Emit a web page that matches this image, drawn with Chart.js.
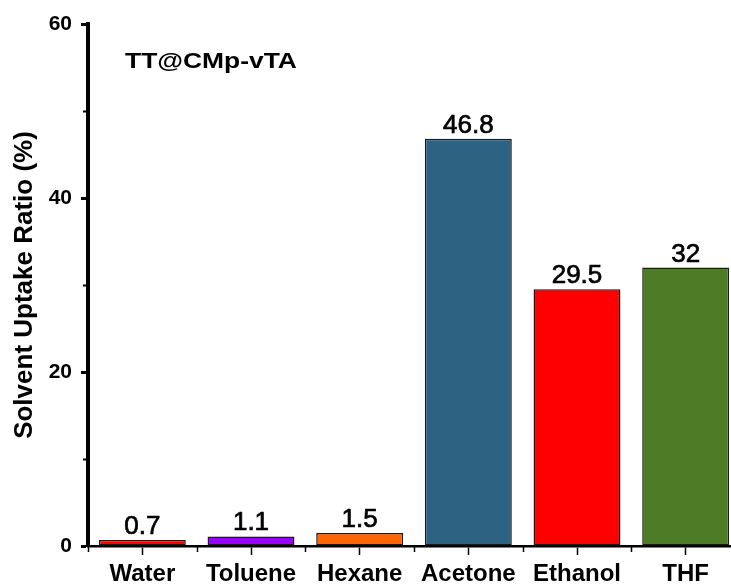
<!DOCTYPE html>
<html>
<head>
<meta charset="utf-8">
<script src="https://cdn.jsdelivr.net/npm/chart.js@4.4.1/dist/chart.umd.min.js"></script>
<style>
  html, body { margin: 0; padding: 0; background: #fff; overflow: hidden; }
  #wrap { width: 740px; height: 587px; }
</style>
</head>
<body>
<div id="wrap"><canvas id="myChart" width="740" height="587"></canvas></div>
<script>
const solvents = ['Water', 'Toluene', 'Hexane', 'Acetone', 'Ethanol', 'THF'];
const uptake = [0.7, 1.1, 1.5, 46.8, 29.5, 32];
const barColors = ['#ff0000', '#9900ff', '#ff6600', '#2d6283', '#ff0000', '#4e7b25'];
const yTicks = [0, 20, 40, 60];
const yMinorTicks = [10, 30, 50];
const sampleName = 'TT@CMp-vTA';
const yTitle = 'Solvent Uptake Ratio (%)';

const FONT = "'Liberation Sans', Arial, sans-serif";

// short ticks between the labelled ones, plus the boundary ticks on the x axis
const minorTicks = {
  id: 'minorTicks',
  afterDraw(chart) {
    const c = chart.ctx, y = chart.scales.y, x = chart.scales.x;
    const area = chart.chartArea;
    c.save();
    c.strokeStyle = '#000';
    c.lineWidth = 2;
    yMinorTicks.forEach(v => {
      const py = Math.round(y.getPixelForValue(v)) + 0.5;
      c.beginPath();
      c.moveTo(area.left - 2, py);
      c.lineTo(area.left - 5, py);
      c.stroke();
    });
    c.lineWidth = 1.5;
    for (let i = 0; i <= solvents.length; i++) {
      const px = Math.round(x.getPixelForValue(i - 0.5)) + 0.5;
      c.beginPath();
      c.moveTo(px, area.bottom + 1);
      c.lineTo(px, area.bottom + 6);
      c.stroke();
    }
    c.restore();
  }
};

// numbers over the bars and the sample name in the corner
const barLabels = {
  id: 'barLabels',
  afterDatasetsDraw(chart) {
    const c = chart.ctx;
    const meta = chart.getDatasetMeta(0);
    c.save();
    c.fillStyle = '#000';
    c.strokeStyle = '#000';
    c.lineWidth = 0.7;
    c.textAlign = 'center';
    c.textBaseline = 'alphabetic';
    c.font = '26px ' + FONT;
    meta.data.forEach((bar, i) => {
      const txt = String(uptake[i]);
      c.fillText(txt, bar.x, bar.y - 6);
      c.strokeText(txt, bar.x, bar.y - 6);
    });
    const area = chart.chartArea;
    c.translate(area.left + 37, area.top + 44);
    c.scale(1.2, 1);
    c.textAlign = 'left';
    c.font = 'bold 22px ' + FONT;
    c.fillText(sampleName, 0, 0);
    c.restore();
  }
};

new Chart(document.getElementById('myChart'), {
  type: 'bar',
  data: {
    labels: solvents,
    datasets: [{
      data: uptake,
      backgroundColor: barColors,
      borderColor: '#1a1a1a',
      borderWidth: 1.5,
      borderSkipped: false,
      barPercentage: 0.8,
      categoryPercentage: 1
    }]
  },
  options: {
    responsive: false,
    animation: false,
    devicePixelRatio: 1,
    layout: { padding: { top: 24, left: 0, right: 0, bottom: 0 } },
    plugins: { legend: { display: false }, tooltip: { enabled: false } },
    scales: {
      x: {
        grid: { display: true, drawOnChartArea: false, offset: false, tickLength: 9, tickWidth: 1.5, tickColor: '#000' },
        border: { display: true, color: '#000', width: 2.5 },
        ticks: { color: '#000', padding: 5, font: { family: FONT, size: 24, weight: 'bold' } },
        afterFit(scale) { scale.height = 41; }
      },
      y: {
        min: 0,
        max: 60,
        afterBuildTicks(scale) { scale.ticks = yTicks.map(v => ({ value: v })); },
        grid: { display: true, drawOnChartArea: false, tickLength: 7, tickWidth: 3, tickColor: '#000' },
        border: { display: true, color: '#000', width: 4 },
        ticks: { color: '#000', padding: 9, font: { family: FONT, size: 21, weight: 'bold' } },
        title: {
          display: true,
          text: yTitle,
          color: '#000',
          padding: { top: 9, bottom: 0 },
          font: { family: FONT, size: 26, weight: 'bold' }
        },
        afterFit(scale) { scale.width = 88; }
      }
    }
  },
  plugins: [minorTicks, barLabels]
});
</script>
</body>
</html>
